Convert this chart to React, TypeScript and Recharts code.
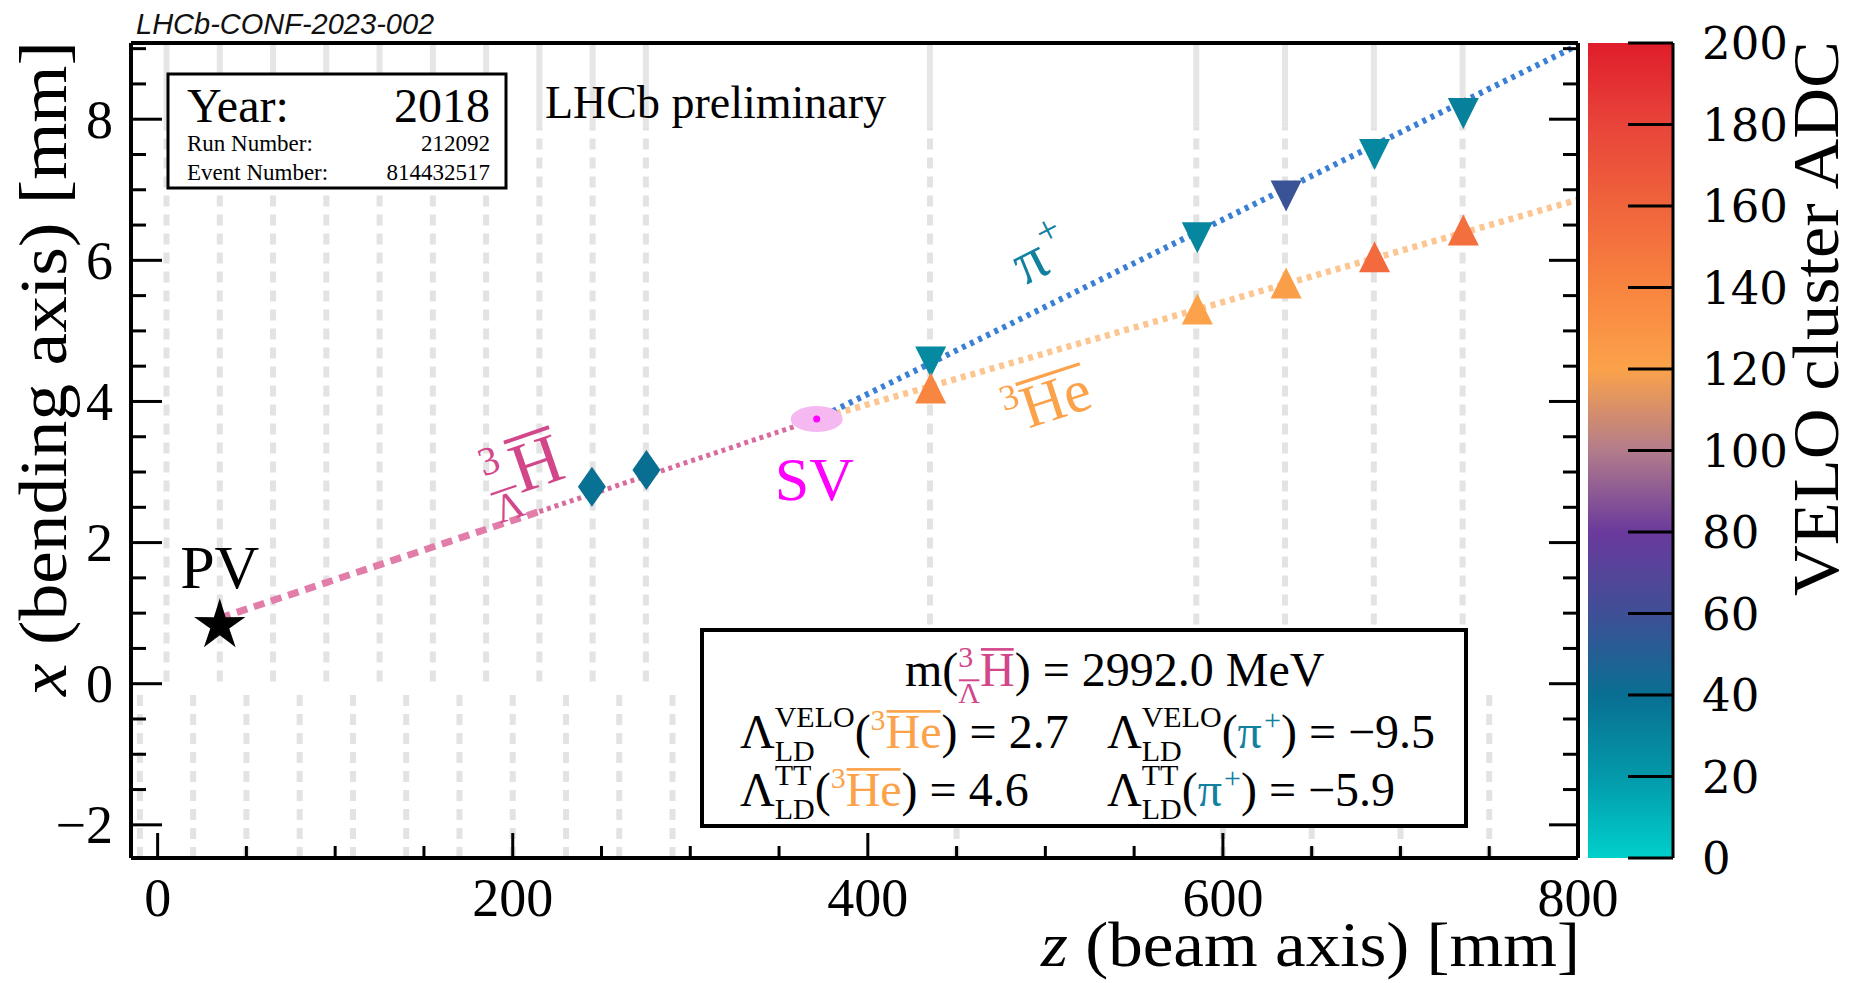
import React from 'react';
import {
  ComposedChart,
  BarChart,
  Bar,
  Line,
  Scatter,
  XAxis,
  YAxis,
  ReferenceLine,
  ReferenceDot,
} from 'recharts';

// axis ranges (z = beam axis, x = bending axis)
const zDomain = [-15, 800];
const xDomain = [-2.47, 9.08];

const zTicks = [0, 50, 100, 150, 200, 250, 300, 350, 400, 450, 500, 550, 600, 650, 700, 750, 800];
const zLabelTicks = [0, 200, 400, 600, 800];
const xTicks = [-2, -1.5, -1, -0.5, 0, 0.5, 1, 1.5, 2, 2.5, 3, 3.5, 4, 4.5, 5, 5.5, 6, 6.5, 7, 7.5, 8, 8.5, 9];
const xLabelTicks = [-2, 0, 2, 4, 6, 8];
const adcTicks = [0, 20, 40, 60, 80, 100, 120, 140, 160, 180, 200];

// VELO module positions, one list per detector half
const stationsRight = [5, 35, 65, 95, 125, 155, 185, 215, 245, 275, 435, 585, 635, 685, 735];
const stationsLeft = [-10, 20, 50, 80, 110, 140, 170, 200, 230, 260, 290, 450, 600, 650, 700, 750];

// vertices
const primaryVertex = [{ z: 35, x: 0.87 }];
const secondaryVertex = [{ z: 371.2, x: 3.75 }];

// tracks
const hypertritonExtrapolation = [
  { z: 35, x: 0.93 },
  { z: 215, x: 2.44 },
];
const hypertritonTrack = [
  { z: 215, x: 2.44 },
  { z: 371.2, x: 3.75 },
];
const pionTrack = [
  { z: 371.2, x: 3.75 },
  { z: 800, x: 9.05 },
];
const heliumTrack = [
  { z: 371.2, x: 3.75 },
  { z: 800, x: 6.86 },
];

// VELO clusters with their ADC
const hypertritonHits = [
  { z: 244.6, x: 2.79, adc: 39 },
  { z: 275.3, x: 3.03, adc: 40 },
];
const pionHits = [
  { z: 435.4, x: 4.56, adc: 27 },
  { z: 585.6, x: 6.32, adc: 29 },
  { z: 635.6, x: 6.91, adc: 58 },
  { z: 685.4, x: 7.5, adc: 28 },
  { z: 735.4, x: 8.08, adc: 32 },
];
const heliumHits = [
  { z: 435.4, x: 4.19, adc: 139 },
  { z: 585.6, x: 5.31, adc: 120 },
  { z: 635.6, x: 5.68, adc: 123 },
  { z: 685.4, x: 6.05, adc: 156 },
  { z: 735.4, x: 6.43, adc: 153 },
];

// colour scale of the ADC bar
const adcStops = [
  { adc: 0, color: '#00d0cc' },
  { adc: 20, color: '#0399aa' },
  { adc: 40, color: '#096f92' },
  { adc: 60, color: '#3f4f96' },
  { adc: 80, color: '#6a3a9c' },
  { adc: 100, color: '#b27c8b' },
  { adc: 120, color: '#fba24a' },
  { adc: 140, color: '#f8843f' },
  { adc: 160, color: '#f0643c' },
  { adc: 180, color: '#e8443a' },
  { adc: 200, color: '#e01d2b' },
];
const colorbarData = [{ name: 'ADC', value: 200 }];

// label anchors (data coordinates)
const annotations = [
  { id: 'pv', z: 35, x: 1.36 },
  { id: 'sv', z: 369.9, x: 2.61 },
  { id: 'pi', z: 499, x: 6.0 },
  { id: 'he', z: 501, x: 4.0 },
  { id: 'h3', z: 205.8, x: 3.04 },
];

const PINK = '#d2468a';
const ORANGE = '#fba24a';
const TEAL = '#12809f';
const SERIF = '"Liberation Serif", "Times New Roman", serif';

function hexToRgb(h: string) {
  const n = parseInt(h.slice(1), 16);
  return [(n >> 16) & 255, (n >> 8) & 255, n & 255];
}

function adcColor(adc: number) {
  for (let i = 1; i < adcStops.length; i++) {
    const a = adcStops[i - 1];
    const b = adcStops[i];
    if (adc <= b.adc) {
      const t = (adc - a.adc) / (b.adc - a.adc);
      const ca = hexToRgb(a.color);
      const cb = hexToRgb(b.color);
      const c = ca.map((v, k) => Math.round(v + (cb[k] - v) * t));
      return `rgb(${c[0]},${c[1]},${c[2]})`;
    }
  }
  return adcStops[adcStops.length - 1].color;
}

const fmt = (v: number) => (v < 0 ? '\u2212' + Math.abs(v) : String(v));

// Times advance widths (per em) for the formula pieces
const W: Record<string, number> = {
  m: 0.778, '(': 0.333, ')': 0.333, ' ': 0.25, '=': 0.564, '.': 0.25, M: 0.889, e: 0.444,
  V: 0.722, 'Λ': 0.722, H: 0.722, E: 0.611, L: 0.611, O: 0.722, D: 0.722, T: 0.611,
  'π': 0.55, '+': 0.564, '\u2212': 0.564,
};
const textWidth = (t: string, fs: number) => t.split('').reduce((s, c) => s + (W[c] ?? 0.5), 0) * fs;

type Seg = { t: string; fs: number; dy?: number; fill?: string; over?: boolean; under?: boolean };

const formulaWidth = (segs: Seg[]) => {
  let pen = 0;
  let last = 0;
  segs.forEach((s) => {
    const sx = s.under ? last : pen;
    const end = sx + textWidth(s.t, s.fs);
    pen = s.under ? Math.max(pen, end) : end;
    last = sx;
  });
  return pen;
};

// text with sub/superscripts and overbars, laid out left to right
function Formula({ x, y, segs, fill = '#000' }: { x: number; y: number; segs: Seg[]; fill?: string }) {
  let pen = x;
  let last = x;
  const out: React.ReactNode[] = [];
  segs.forEach((s, i) => {
    const w = textWidth(s.t, s.fs);
    const sx = s.under ? last : pen;
    const end = sx + w;
    pen = s.under ? Math.max(pen, end) : end;
    last = sx;
    const by = y + (s.dy ?? 0);
    const col = s.fill ?? fill;
    out.push(
      <text key={`t${i}`} x={sx} y={by} fontSize={s.fs} fill={col} fontFamily={SERIF} style={{ whiteSpace: 'pre' }}>
        {s.t}
      </text>
    );
    if (s.over) {
      out.push(
        <rect
          key={`o${i}`}
          x={sx + s.fs * 0.02}
          width={w - s.fs * 0.04}
          y={by - s.fs * 0.79}
          height={Math.max(2, s.fs * 0.055)}
          fill={col}
        />
      );
    }
  });
  return <g>{out}</g>;
}

// ---- ticks (ROOT style, pointing inwards) ----
const BottomTick = (p: any) => {
  const major = zLabelTicks.includes(p.payload.value);
  return (
    <g>
      <line x1={p.x} x2={p.x} y1={p.y} y2={p.y - (major ? 25 : 12)} stroke="#000" strokeWidth={3} />
      {major && (
        <text x={p.x} y={p.y + 58} textAnchor="middle" fontFamily={SERIF} fontSize={54} fill="#000">
          {fmt(p.payload.value)}
        </text>
      )}
    </g>
  );
};

const TopTick = (p: any) => {
  const major = zLabelTicks.includes(p.payload.value);
  return <line x1={p.x} x2={p.x} y1={p.y} y2={p.y + (major ? 23 : 12)} stroke="#000" strokeWidth={3} />;
};

const LeftTick = (p: any) => {
  const major = xLabelTicks.includes(p.payload.value);
  return (
    <g>
      <line x1={p.x} x2={p.x + (major ? 31 : 15)} y1={p.y} y2={p.y} stroke="#000" strokeWidth={3} />
      {major && (
        <text x={p.x - 18} y={p.y} dy="0.34em" textAnchor="end" fontFamily={SERIF} fontSize={54} fill="#000">
          {fmt(p.payload.value)}
        </text>
      )}
    </g>
  );
};

const RightTick = (p: any) => {
  const major = xLabelTicks.includes(p.payload.value);
  return <line x1={p.x} x2={p.x - (major ? 29 : 15)} y1={p.y} y2={p.y} stroke="#000" strokeWidth={3} />;
};

const ColorbarTick = (p: any) => (
  <g>
    <line x1={p.x} x2={p.x - 45} y1={p.y} y2={p.y} stroke="#000" strokeWidth={3} />
    <text x={p.x + 29} y={p.y} dy="0.36em" fontFamily='"DejaVu Serif", serif' fontSize={45} fill="#000">
      {p.payload.value}
    </text>
  </g>
);

// ---- marker shapes ----
const TriangleDown = (p: any) => (
  <polygon
    points={`${p.cx - 15.5},${p.cy - 15.5} ${p.cx + 15.5},${p.cy - 15.5} ${p.cx},${p.cy + 15.5}`}
    fill={adcColor(p.payload.adc)}
  />
);
const TriangleUp = (p: any) => (
  <polygon
    points={`${p.cx - 15.5},${p.cy + 15.5} ${p.cx + 15.5},${p.cy + 15.5} ${p.cx},${p.cy - 15.5}`}
    fill={adcColor(p.payload.adc)}
  />
);
const Diamond = (p: any) => (
  <polygon
    points={`${p.cx},${p.cy - 20} ${p.cx + 14},${p.cy} ${p.cx},${p.cy + 20} ${p.cx - 14},${p.cy}`}
    fill={adcColor(p.payload.adc)}
  />
);
const Star = (p: any) => {
  const pts: string[] = [];
  for (let i = 0; i < 10; i++) {
    const r = i % 2 === 0 ? 27 : 10;
    const a = -Math.PI / 2 + (i * Math.PI) / 5;
    pts.push(`${p.cx + r * Math.cos(a)},${p.cy + 3 + r * Math.sin(a)}`);
  }
  return <polygon points={pts.join(' ')} fill="#000" />;
};
const SvBlob = (p: any) => <ellipse cx={p.cx} cy={p.cy} rx={26} ry={13} fill="#f5b8f1" />;
const SvDot = (p: any) => <circle cx={p.cx} cy={p.cy} r={3.5} fill="#ff00ff" />;

const heSegs: Seg[] = [
  { t: '3', fs: 36, dy: -24 },
  { t: 'He', fs: 60, over: true },
];
const piSegs: Seg[] = [
  { t: 'π', fs: 62 },
  { t: '+', fs: 40, dy: -26 },
];
const h3Segs: Seg[] = [
  { t: '3', fs: 40, dy: -28 },
  { t: 'Λ', fs: 40, dy: 22, over: true, under: true },
  { t: 'H', fs: 70, over: true },
];

function RotatedFormula({ cx, cy, angle, segs, fill, base }: any) {
  const w = formulaWidth(segs);
  return (
    <g transform={`translate(${cx},${cy}) rotate(${angle})`}>
      <Formula x={-w / 2} y={base} segs={segs} fill={fill} />
    </g>
  );
}

function annotationShape(id: string) {
  return (p: any) => {
    const { cx, cy } = p;
    if (id === 'pv')
      return (
        <text x={cx} y={cy} textAnchor="middle" fontFamily={SERIF} fontSize={62} fill="#000">
          PV
        </text>
      );
    if (id === 'sv')
      return (
        <text x={cx} y={cy} textAnchor="middle" fontFamily={SERIF} fontSize={62} fill="#ff00ff">
          SV
        </text>
      );
    if (id === 'pi') return <RotatedFormula cx={cx} cy={cy} angle={-27} segs={piSegs} fill={TEAL} base={14} />;
    if (id === 'he') return <RotatedFormula cx={cx} cy={cy} angle={-18} segs={heSegs} fill={ORANGE} base={20} />;
    return <RotatedFormula cx={cx} cy={cy} angle={-19} segs={h3Segs} fill={PINK} base={22} />;
  };
}

const axisLine = { stroke: '#000', strokeWidth: 4 };

function MainChart() {
  return (
    <ComposedChart
      width={1856}
      height={983}
      margin={{ top: 42, right: 277, bottom: 124, left: 130 }}
      style={{ position: 'absolute', left: 0, top: 0 }}
    >
      <XAxis
        dataKey="z"
        type="number"
        domain={zDomain}
        allowDataOverflow
        ticks={zTicks}
        interval={0}
        height={1}
        tickSize={0}
        tickMargin={0}
        tickLine={false}
        tick={BottomTick}
        axisLine={axisLine}
      />
      <XAxis
        xAxisId="top"
        orientation="top"
        type="number"
        domain={zDomain}
        allowDataOverflow
        ticks={zTicks}
        interval={0}
        height={1}
        tickSize={0}
        tickMargin={0}
        tickLine={false}
        tick={TopTick}
        axisLine={axisLine}
      />
      <YAxis
        dataKey="x"
        type="number"
        domain={xDomain}
        allowDataOverflow
        ticks={xTicks}
        interval={0}
        width={1}
        tickSize={0}
        tickMargin={0}
        tickLine={false}
        tick={LeftTick}
        axisLine={axisLine}
      />
      <YAxis
        yAxisId="right"
        orientation="right"
        type="number"
        domain={xDomain}
        allowDataOverflow
        ticks={xTicks}
        interval={0}
        width={1}
        tickSize={0}
        tickMargin={0}
        tickLine={false}
        tick={RightTick}
        axisLine={axisLine}
      />

      {stationsRight.map((z) => (
        <ReferenceLine
          key={`rd${z}`}
          segment={[
            { x: z, y: 0.03 },
            { x: z, y: 7.9 },
          ]}
          stroke="#e3e3e3"
          strokeWidth={6}
          strokeDasharray="11 8"
        />
      ))}
      {stationsRight.map((z) => (
        <ReferenceLine
          key={`rs${z}`}
          segment={[
            { x: z, y: 7.9 },
            { x: z, y: xDomain[1] },
          ]}
          stroke="#e6e6e6"
          strokeWidth={6}
        />
      ))}
      {stationsLeft.map((z) => (
        <ReferenceLine
          key={`l${z}`}
          segment={[
            { x: z, y: xDomain[0] },
            { x: z, y: -0.05 },
          ]}
          stroke="#e3e3e3"
          strokeWidth={6}
          strokeDasharray="11 8"
        />
      ))}

      <Scatter data={secondaryVertex} dataKey="x" shape={SvBlob} isAnimationActive={false} />

      <Line
        data={hypertritonExtrapolation}
        dataKey="x"
        type="linear"
        stroke="#e27ca9"
        strokeWidth={7}
        strokeDasharray="11 7"
        dot={false}
        activeDot={false}
        isAnimationActive={false}
      />
      <Line
        data={hypertritonTrack}
        dataKey="x"
        type="linear"
        stroke="#d86c9e"
        strokeWidth={5}
        strokeDasharray="4 4"
        dot={false}
        activeDot={false}
        isAnimationActive={false}
      />
      <Line
        data={heliumTrack}
        dataKey="x"
        type="linear"
        stroke="#fcc692"
        strokeWidth={6.5}
        strokeDasharray="5 5"
        dot={false}
        activeDot={false}
        isAnimationActive={false}
      />
      <Line
        data={pionTrack}
        dataKey="x"
        type="linear"
        stroke="#3b7fd4"
        strokeWidth={6}
        strokeDasharray="4 5"
        dot={false}
        activeDot={false}
        isAnimationActive={false}
      />

      <Scatter data={secondaryVertex} dataKey="x" shape={SvDot} isAnimationActive={false} />
      <Scatter data={primaryVertex} dataKey="x" shape={Star} isAnimationActive={false} />
      <Scatter data={hypertritonHits} dataKey="x" shape={Diamond} isAnimationActive={false} />
      <Scatter data={pionHits} dataKey="x" shape={TriangleDown} isAnimationActive={false} />
      <Scatter data={heliumHits} dataKey="x" shape={TriangleUp} isAnimationActive={false} />

      {annotations.map((a) => (
        <ReferenceDot key={a.id} x={a.z} y={a.x} r={0} shape={annotationShape(a.id)} />
      ))}
    </ComposedChart>
  );
}

function Colorbar() {
  return (
    <BarChart
      width={268}
      height={983}
      data={colorbarData}
      margin={{ top: 43, right: 182, bottom: 125, left: 0 }}
      barCategoryGap={0}
      barGap={0}
      style={{ position: 'absolute', left: 1588, top: 0 }}
    >
      <defs>
        <linearGradient id="adcGradient" x1="0" y1="1" x2="0" y2="0">
          {adcStops.map((s) => (
            <stop key={s.adc} offset={s.adc / 200} stopColor={s.color} />
          ))}
        </linearGradient>
      </defs>
      <XAxis dataKey="name" hide />
      <YAxis
        orientation="right"
        type="number"
        domain={[0, 200]}
        ticks={adcTicks}
        interval={0}
        width={1}
        tickSize={0}
        tickMargin={0}
        tickLine={false}
        tick={ColorbarTick}
        axisLine={{ stroke: '#000', strokeWidth: 3 }}
      />
      <Bar dataKey="value" fill="url(#adcGradient)" isAnimationActive={false} />
    </BarChart>
  );
}

const massSegs: Seg[] = [
  { t: 'm(', fs: 48 },
  { t: '3', fs: 30, dy: -19, fill: PINK },
  { t: 'Λ', fs: 30, dy: 17, fill: PINK, over: true, under: true },
  { t: 'H', fs: 48, fill: PINK, over: true },
  { t: ') = 2992.0 MeV', fs: 48 },
];
const llSegs = (det: string, particle: Seg[], value: string): Seg[] => [
  { t: 'Λ', fs: 48 },
  { t: det, fs: 30, dy: -21 },
  { t: 'LD', fs: 30, dy: 13, under: true },
  { t: '(', fs: 48 },
  ...particle,
  { t: `) = ${value}`, fs: 48 },
];
const heArg: Seg[] = [
  { t: '3', fs: 30, dy: -18, fill: ORANGE },
  { t: 'He', fs: 48, fill: ORANGE, over: true },
];
const piArg: Seg[] = [
  { t: 'π', fs: 48, fill: TEAL },
  { t: '+', fs: 30, dy: -18, fill: TEAL },
];

function Overlay() {
  return (
    <svg
      width={1856}
      height={983}
      style={{ position: 'absolute', left: 0, top: 0, pointerEvents: 'none' }}
      fontFamily={SERIF}
    >
      <text x={136} y={34} fontFamily='"Liberation Sans", Arial, sans-serif' fontStyle="italic" fontSize={29} fill="#111">
        LHCb-CONF-2023-002
      </text>

      {/* event info box */}
      <rect x={168} y={74} width={338} height={114} fill="#fff" stroke="#000" strokeWidth={3} />
      <text x={187} y={122} fontSize={48}>Year:</text>
      <text x={490} y={122} fontSize={48} textAnchor="end">2018</text>
      <text x={187} y={151} fontSize={23}>Run Number:</text>
      <text x={490} y={151} fontSize={23} textAnchor="end">212092</text>
      <text x={187} y={180} fontSize={23}>Event Number:</text>
      <text x={490} y={180} fontSize={23} textAnchor="end">814432517</text>

      <text x={545} y={118} fontSize={46}>LHCb preliminary</text>

      {/* results box */}
      <rect x={702} y={630} width={764} height={196} fill="#fff" stroke="#000" strokeWidth={4} />
      <Formula x={905} y={686} segs={massSegs} />
      <Formula x={740} y={748} segs={llSegs('VELO', heArg, '2.7')} />
      <Formula x={1107} y={748} segs={llSegs('VELO', piArg, '\u22129.5')} />
      <Formula x={740} y={806} segs={llSegs('TT', heArg, '4.6')} />
      <Formula x={1107} y={806} segs={llSegs('TT', piArg, '\u22125.9')} />

      {/* axis titles */}
      <text x={1580} y={966} fontSize={64} textAnchor="end" textLength={539} lengthAdjust="spacingAndGlyphs">
        <tspan fontStyle="italic">z</tspan> (beam axis) [mm]
      </text>
      <text
        transform="translate(66,41) rotate(-90)"
        fontSize={68}
        textAnchor="end"
        textLength={655}
        lengthAdjust="spacingAndGlyphs"
      >
        <tspan fontStyle="italic">x</tspan> (bending axis) [mm]
      </text>
      <text
        transform="translate(1838,41) rotate(-90)"
        fontSize={66}
        textAnchor="end"
        textLength={555}
        lengthAdjust="spacingAndGlyphs"
      >
        VELO cluster ADC
      </text>
    </svg>
  );
}

export default function App() {
  return (
    <div style={{ position: 'absolute', left: 0, top: 0, width: 1856, height: 983, background: '#fff' }}>
      <MainChart />
      <Colorbar />
      <Overlay />
    </div>
  );
}
